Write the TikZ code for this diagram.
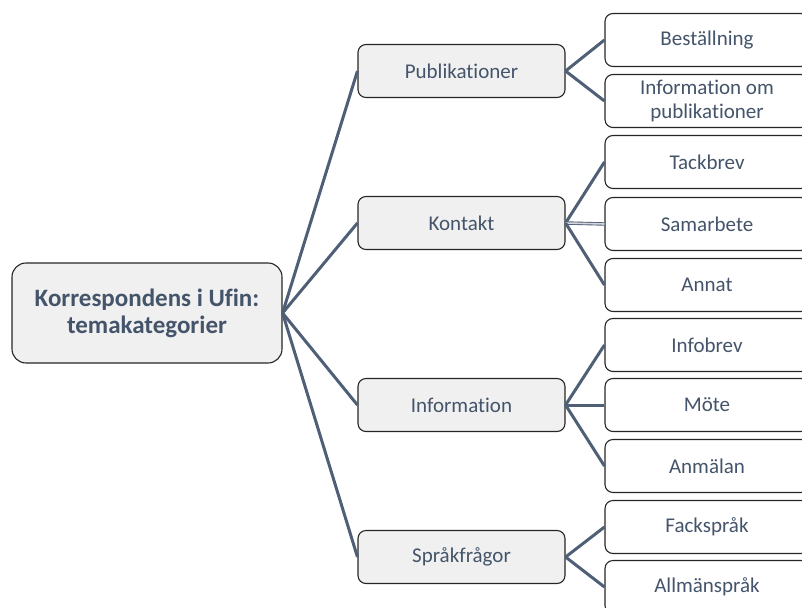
\documentclass[tikz,border=0pt]{standalone}
\usepackage{fontspec}
\setmainfont{Carlito}[RawFeature=-liga]
\definecolor{txt}{HTML}{44546A}
\definecolor{conncol}{HTML}{4F5F76}
\definecolor{boxgray}{HTML}{F0F0F0}
\tikzset{
  basebox/.style={draw=black!85, line width=1.1pt, text=txt, align=center, inner sep=0pt},
  rootbox/.style={basebox, rounded corners=14pt, fill=boxgray, minimum width=270pt, minimum height=100pt, font=\fontsize{25}{27}\selectfont\bfseries},
  midbox/.style={basebox, rounded corners=8pt, fill=boxgray, minimum width=207pt, minimum height=53pt, font=\fontsize{21}{24}\selectfont},
  leafbox/.style={basebox, rounded corners=8pt, fill=white, minimum width=204pt, minimum height=53pt, font=\fontsize{21}{24}\selectfont},
  conn/.style={draw=conncol, line width=3pt},
  dconn/.style={draw=conncol, line width=0.9pt, double=conncol!25, double distance=1.6pt}
}
\begin{document}
\begin{tikzpicture}[x=1pt, y=-1pt]
\useasboundingbox (0,0) rectangle (802,607);
\clip (0,0) rectangle (802,607);
\node[rootbox] (root) at (147,313) {Korrespondens i Ufin:\\temakategorier};
\node[midbox] (pub) at (461.5,71) {Publikationer};
\node[midbox] (kon) at (461.5,223) {Kontakt};
\node[midbox] (inf) at (461.5,405) {Information};
\node[midbox] (spr) at (461.5,557) {Språkfrågor};
\node[leafbox] (best) at (707,40) {Beställning};
\node[leafbox] (iop) at (707,101) {Information om\\publikationer};
\node[leafbox] (tack) at (707,162) {Tackbrev};
\node[leafbox] (sam) at (707,224) {Samarbete};
\node[leafbox] (ann) at (707,285) {Annat};
\node[leafbox] (infb) at (707,345) {Infobrev};
\node[leafbox] (mote) at (707,405) {Möte};
\node[leafbox] (anm) at (707,466) {Anmälan};
\node[leafbox] (fack) at (707,527) {Fackspråk};
\node[leafbox] (allm) at (707,587) {Allmänspråk};
\draw[conn] (root.east) -- (pub.west);
\draw[conn] (root.east) -- (kon.west);
\draw[conn] (root.east) -- (inf.west);
\draw[conn] (root.east) -- (spr.west);
\draw[conn] (pub.east) -- (best.west);
\draw[conn] (pub.east) -- (iop.west);
\draw[conn] (kon.east) -- (tack.west);
\draw[dconn] (kon.east) -- (sam.west);
\draw[conn] (kon.east) -- (ann.west);
\draw[conn] (inf.east) -- (infb.west);
\draw[conn] (inf.east) -- (mote.west);
\draw[conn] (inf.east) -- (anm.west);
\draw[conn] (spr.east) -- (fack.west);
\draw[conn] (spr.east) -- (allm.west);
\end{tikzpicture}
\end{document}
